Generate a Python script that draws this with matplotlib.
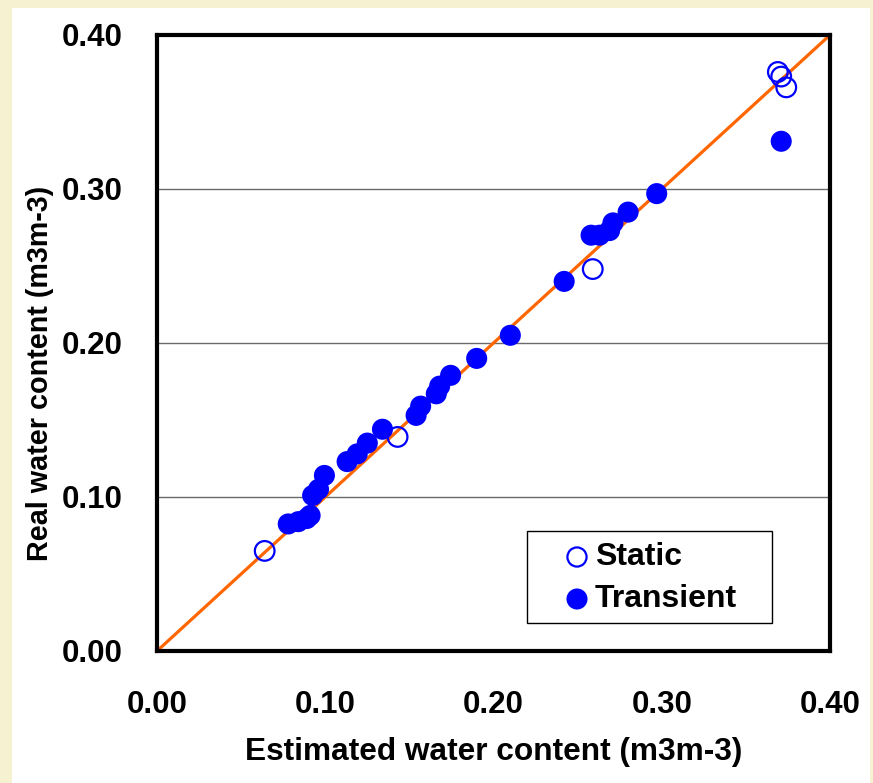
import matplotlib
matplotlib.use("Agg")
import matplotlib.pyplot as plt
from matplotlib.patches import Rectangle

plt.rcParams['font.family'] = ['Liberation Sans', 'DejaVu Sans']
plt.rcParams['font.weight'] = 'bold'

# Static measurements (estimated vs. real water content, m3m-3)
static_est = [0.064, 0.143, 0.259, 0.369, 0.371, 0.374]
static_real = [0.065, 0.139, 0.248, 0.376, 0.373, 0.366]

# Transient measurements
transient_est = [0.078, 0.084, 0.089, 0.091, 0.0925, 0.096, 0.0995, 0.113, 0.119,
                 0.125, 0.134, 0.154, 0.1567, 0.166, 0.168, 0.1745, 0.190, 0.210,
                 0.242, 0.258, 0.263, 0.269, 0.271, 0.280, 0.297, 0.371]
transient_real = [0.0825, 0.084, 0.086, 0.088, 0.101, 0.105, 0.114, 0.123, 0.128,
                  0.135, 0.144, 0.153, 0.159, 0.167, 0.172, 0.179, 0.190, 0.205,
                  0.240, 0.270, 0.270, 0.273, 0.278, 0.285, 0.297, 0.331]

ticks = [0.00, 0.10, 0.20, 0.30, 0.40]
tick_labels = ["0.00", "0.10", "0.20", "0.30", "0.40"]
one_to_one = [0.0, 0.40]

BLUE = "#0000FF"
W, H = 873, 783
fig = plt.figure(figsize=(W / 100, H / 100), dpi=100, facecolor="#F6F1D1")
# white panel inside the cream frame
panel = Rectangle((12 / W, 0), (870 - 12) / W, 1 - 8 / H,
                  transform=fig.transFigure, facecolor="white",
                  edgecolor="none", zorder=-10)
fig.patches.append(panel)

ax = fig.add_axes([157 / W, 1 - 651 / H, (830 - 157) / W, (651 - 35) / H])
ax.set_facecolor("white")

for t in ticks[1:-1]:
    ax.axhline(t, color="#6a6a6a", lw=1.0, zorder=1)

ax.plot(one_to_one, one_to_one, color="#FF6600", lw=2.3, zorder=2, clip_on=False)

ax.scatter(static_est, static_real, s=200, facecolors="none", edgecolors=BLUE,
           linewidths=1.6, zorder=3, clip_on=False)
ax.scatter(transient_est, transient_real, s=230, color=BLUE, edgecolors="none",
           zorder=4, clip_on=False)

ax.set_xlim(0, 0.40)
ax.set_ylim(0, 0.40)
ax.set_xticks(ticks)
ax.set_xticklabels(tick_labels)
ax.set_yticks(ticks)
ax.set_yticklabels(tick_labels)
ax.tick_params(length=0, labelsize=22.5)
ax.tick_params(axis="x", pad=28)
ax.tick_params(axis="y", pad=25)
for lab in ax.get_xticklabels() + ax.get_yticklabels():
    lab.set_fontweight("bold")

for sp in ax.spines.values():
    sp.set_linewidth(3.0)
    sp.set_color("black")

fig.text(494 / W, 1 - 752 / H, "Estimated water content (m3m-3)", fontsize=22.8,
         fontweight="bold", ha="center", va="center")
fig.text(40 / W, 1 - 373 / H, "Real water content (m3m-3)", fontsize=20.7,
         fontweight="bold", ha="center", va="center", rotation=90)

# legend box with one marker and label per series
def px_ax(px, py):
    return (px - 157) / 673, (651 - py) / 616

lx0, ly0 = px_ax(527, 623)
lx1, ly1 = px_ax(772, 531)
ax.add_patch(Rectangle((lx0, ly0), lx1 - lx0, ly1 - ly0, transform=ax.transAxes,
                       facecolor="white", edgecolor="black", lw=1.0, zorder=6))
mx, my_static = px_ax(577, 557)
_, my_trans = px_ax(576, 599)
tx, _ = px_ax(595, 0)
ax.scatter([mx], [my_static], s=190, facecolors="none", edgecolors=BLUE,
           linewidths=1.6, transform=ax.transAxes, zorder=7, clip_on=False)
ax.scatter([mx], [my_trans], s=230, color=BLUE, edgecolors="none",
           transform=ax.transAxes, zorder=7, clip_on=False)
ax.text(tx, my_static, "Static", transform=ax.transAxes, fontsize=23,
        fontweight="bold", ha="left", va="center", zorder=8)
ax.text(tx, my_trans, "Transient", transform=ax.transAxes, fontsize=23,
        fontweight="bold", ha="left", va="center", zorder=8)

fig.savefig("out.png", dpi=100, facecolor=fig.get_facecolor())
